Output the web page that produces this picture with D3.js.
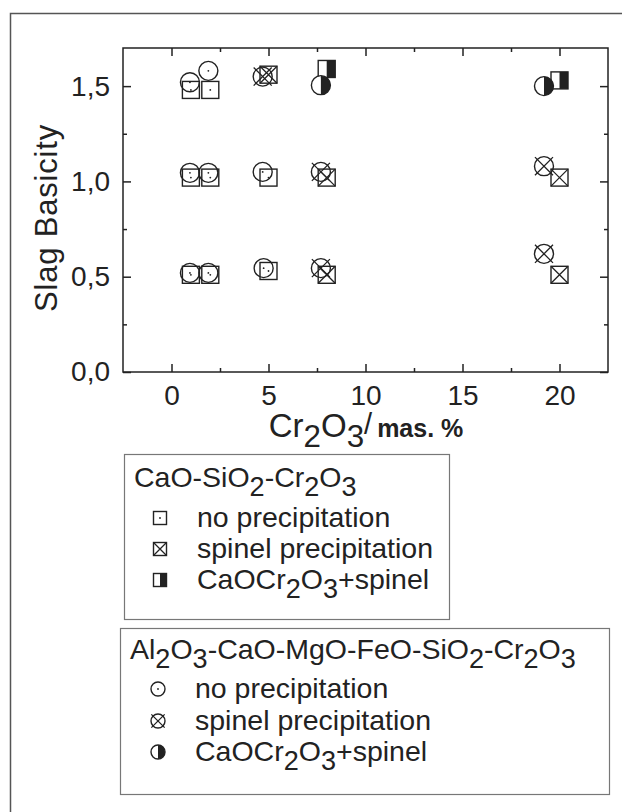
<!DOCTYPE html>
<html>
<head>
<meta charset="utf-8">
<script src="https://cdn.jsdelivr.net/npm/d3@7"></script>
<style>
  body { margin: 0; background: #fff; }
  text { font-family: "Liberation Sans", Arial, sans-serif; fill: #222; }
</style>
</head>
<body>
<div id="chart"></div>
<script>
// squares: CaO-SiO2-Cr2O3
const sqNoX = [1, 2, 1, 2, 5, 1, 2, 5];
const sqNoY = [1.48, 1.48, 1.02, 1.02, 1.02, 0.51, 0.51, 0.53];
const sqSpX = [5, 8, 20, 8, 20];
const sqSpY = [1.56, 1.02, 1.02, 0.51, 0.51];
const sqCaX = [8, 20];
const sqCaY = [1.59, 1.53];
// circles: Al2O3-CaO-MgO-FeO-SiO2-Cr2O3
const ciNoX = [0.95, 1.9, 0.95, 1.9, 4.7, 0.95, 1.9, 4.75];
const ciNoY = [1.52, 1.58, 1.045, 1.045, 1.05, 0.52, 0.52, 0.545];
const ciSpX = [4.7, 7.7, 19.2, 7.7, 19.2];
const ciSpY = [1.55, 1.05, 1.08, 0.545, 0.62];
const ciCaX = [7.7, 19.2];
const ciCaY = [1.505, 1.50];

const xMajor = [0, 5, 10, 15, 20];
const xMinor = [2.5, 7.5, 12.5, 17.5];
const yMajor = [0, 0.5, 1.0, 1.5];
const yMinor = [0.25, 0.75, 1.25];

const legend1Title = "CaO-SiO_2-Cr_2O_3";
const legend2Title = "Al_2O_3-CaO-MgO-FeO-SiO_2-Cr_2O_3";
const legendLabels = ["no precipitation", "spinel precipitation", "CaOCr_2O_3+spinel"];

const W = 622, H = 812;
const plot = { left: 123, top: 48, right: 608, bottom: 372 };
const ink = "#222";

const svg = d3.select("#chart").append("svg")
    .attr("width", W).attr("height", H);

// outer frame
svg.append("rect")
    .attr("x", 10.5).attr("y", 13.5)
    .attr("width", 640).attr("height", 840)
    .attr("fill", "none").attr("stroke", "#555").attr("stroke-width", 1.5);

const x = d3.scaleLinear().domain([-2.5, 22.5]).range([plot.left, plot.right]);
const y = d3.scaleLinear().domain([0, 1.7]).range([plot.bottom, plot.top]);

function styleAxis(g) {
    g.select(".domain").remove();
    g.selectAll("line").attr("stroke", ink).attr("stroke-width", 1.5);
    g.selectAll("text").attr("font-size", 28).attr("fill", ink)
        .attr("font-family", "'Liberation Sans', Arial, sans-serif");
}

// bottom
svg.append("g").attr("transform", `translate(0,${plot.bottom})`)
    .call(d3.axisBottom(x).tickValues(xMajor).tickSize(-8).tickPadding(13).tickFormat(d3.format("d")))
    .call(styleAxis);
svg.append("g").attr("transform", `translate(0,${plot.bottom})`)
    .call(d3.axisBottom(x).tickValues(xMinor).tickSize(-4).tickFormat(""))
    .call(styleAxis);
// top
svg.append("g").attr("transform", `translate(0,${plot.top})`)
    .call(d3.axisTop(x).tickValues(xMajor).tickSize(-8).tickFormat(""))
    .call(styleAxis);
svg.append("g").attr("transform", `translate(0,${plot.top})`)
    .call(d3.axisTop(x).tickValues(xMinor).tickSize(-4).tickFormat(""))
    .call(styleAxis);
// left
const commaFmt = d => d3.format(".1f")(d).replace(".", ",");
svg.append("g").attr("transform", `translate(${plot.left},0)`)
    .call(d3.axisLeft(y).tickValues(yMajor).tickSize(-8).tickPadding(13).tickFormat(commaFmt))
    .call(styleAxis);
svg.append("g").attr("transform", `translate(${plot.left},0)`)
    .call(d3.axisLeft(y).tickValues(yMinor).tickSize(-4).tickFormat(""))
    .call(styleAxis);
// right
svg.append("g").attr("transform", `translate(${plot.right},0)`)
    .call(d3.axisRight(y).tickValues(yMajor).tickSize(-8).tickFormat(""))
    .call(styleAxis);
svg.append("g").attr("transform", `translate(${plot.right},0)`)
    .call(d3.axisRight(y).tickValues(yMinor).tickSize(-4).tickFormat(""))
    .call(styleAxis);

// plot frame
svg.append("rect")
    .attr("x", plot.left).attr("y", plot.top)
    .attr("width", plot.right - plot.left).attr("height", plot.bottom - plot.top)
    .attr("fill", "none").attr("stroke", ink).attr("stroke-width", 1.5);

// text with subscripts, "_2" -> lowered 2; returns the dy needed to get back to baseline
function richText(sel, str, size, subScale = 0.95, drop = 0.3) {
    const parts = str.split(/(_\d)/).filter(p => p.length);
    let lowered = false;
    parts.forEach(p => {
        if (p[0] === "_") {
            sel.append("tspan").attr("font-size", size * subScale)
                .attr("dy", lowered ? 0 : size * drop).text(p.slice(1));
            lowered = true;
        } else {
            sel.append("tspan").attr("font-size", size)
                .attr("dy", lowered ? -size * drop : 0).text(p);
            lowered = false;
        }
    });
    return lowered ? -size * drop : 0;
}

// axis titles
svg.append("text")
    .attr("transform", `translate(57,218) rotate(-90)`)
    .attr("text-anchor", "middle").attr("font-size", 31)
    .attr("letter-spacing", 0.8)
    .text("Slag Basicity");

const xt = svg.append("text").attr("x", 366).attr("y", 437).attr("text-anchor", "middle");
const back = richText(xt, "Cr_2O_3", 33);
xt.append("tspan").attr("font-size", 29).attr("dy", back - 3).text("/");
xt.append("tspan").attr("font-size", 25).attr("font-weight", "bold").attr("dy", 3).attr("dx", 5).text("mas. %");

// marker drawing
function drawSquare(g, s, kind) {
    const h = s / 2;
    if (kind === "ca") {
        g.append("rect").attr("x", 0).attr("y", -h).attr("width", h).attr("height", s).attr("fill", ink);
    }
    g.append("rect").attr("x", -h).attr("y", -h).attr("width", s).attr("height", s)
        .attr("fill", "none").attr("stroke", ink).attr("stroke-width", 1.4);
    if (kind === "no") {
        g.append("circle").attr("r", 0.9).attr("fill", ink);
    } else if (kind === "sp") {
        g.append("path").attr("d", `M${-h},${-h}L${h},${h}M${h},${-h}L${-h},${h}`)
            .attr("stroke", ink).attr("stroke-width", 1.3);
    }
}
function drawCircle(g, r, kind) {
    if (kind === "ca") {
        g.append("path").attr("d", `M0,${-r}A${r},${r} 0 0,0 0,${r}Z`).attr("fill", "#fff");
        g.append("path").attr("d", `M0,${-r}A${r},${r} 0 0,1 0,${r}Z`).attr("fill", ink);
    }
    g.append("circle").attr("r", r).attr("fill", "none").attr("stroke", ink).attr("stroke-width", 1.4);
    if (kind === "no") {
        g.append("circle").attr("r", 0.9).attr("fill", ink);
    } else if (kind === "sp") {
        const e = r * 0.95;
        g.append("path").attr("d", `M${-e},${-e}L${e},${e}M${e},${-e}L${-e},${e}`)
            .attr("stroke", ink).attr("stroke-width", 1.3);
    }
}

function plotSet(xs, ys, shape, kind) {
    const pts = xs.map((v, i) => [v, ys[i]]);
    svg.append("g").selectAll("g").data(pts).enter().append("g")
        .attr("transform", d => `translate(${x(d[0])},${y(d[1])})`)
        .each(function () {
            if (shape === "sq") drawSquare(d3.select(this), 17, kind);
            else drawCircle(d3.select(this), 9.5, kind);
        });
}

plotSet(sqNoX, sqNoY, "sq", "no");
plotSet(sqSpX, sqSpY, "sq", "sp");
plotSet(sqCaX, sqCaY, "sq", "ca");
plotSet(ciNoX, ciNoY, "ci", "no");
plotSet(ciSpX, ciSpY, "ci", "sp");
plotSet(ciCaX, ciCaY, "ci", "ca");

// legends
const kinds = ["no", "sp", "ca"];
function legend(box, title, shape, rows, symX) {
    svg.append("rect").attr("x", box.x + 0.5).attr("y", box.y + 0.5)
        .attr("width", box.w).attr("height", box.h)
        .attr("fill", "#fff").attr("stroke", "#777").attr("stroke-width", 1.2);
    const t = svg.append("text").attr("x", box.x + 10).attr("y", rows.title);
    richText(t, title, 28.5);
    legendLabels.forEach((lab, i) => {
        const g = svg.append("g").attr("transform", `translate(${symX},${rows.items[i] - 9})`);
        if (shape === "sq") drawSquare(g, 13, kinds[i]);
        else drawCircle(g, 7, kinds[i]);
        const tt = svg.append("text").attr("x", symX + 37).attr("y", rows.items[i]);
        richText(tt, lab, 28.5);
    });
}

legend({ x: 124, y: 454, w: 325, h: 165 }, legend1Title, "sq",
    { title: 487, items: [527, 558, 589] }, 160);
legend({ x: 120, y: 628, w: 489, h: 166 }, legend2Title, "ci",
    { title: 659, items: [698, 730, 761] }, 158);
</script>
</body>
</html>
